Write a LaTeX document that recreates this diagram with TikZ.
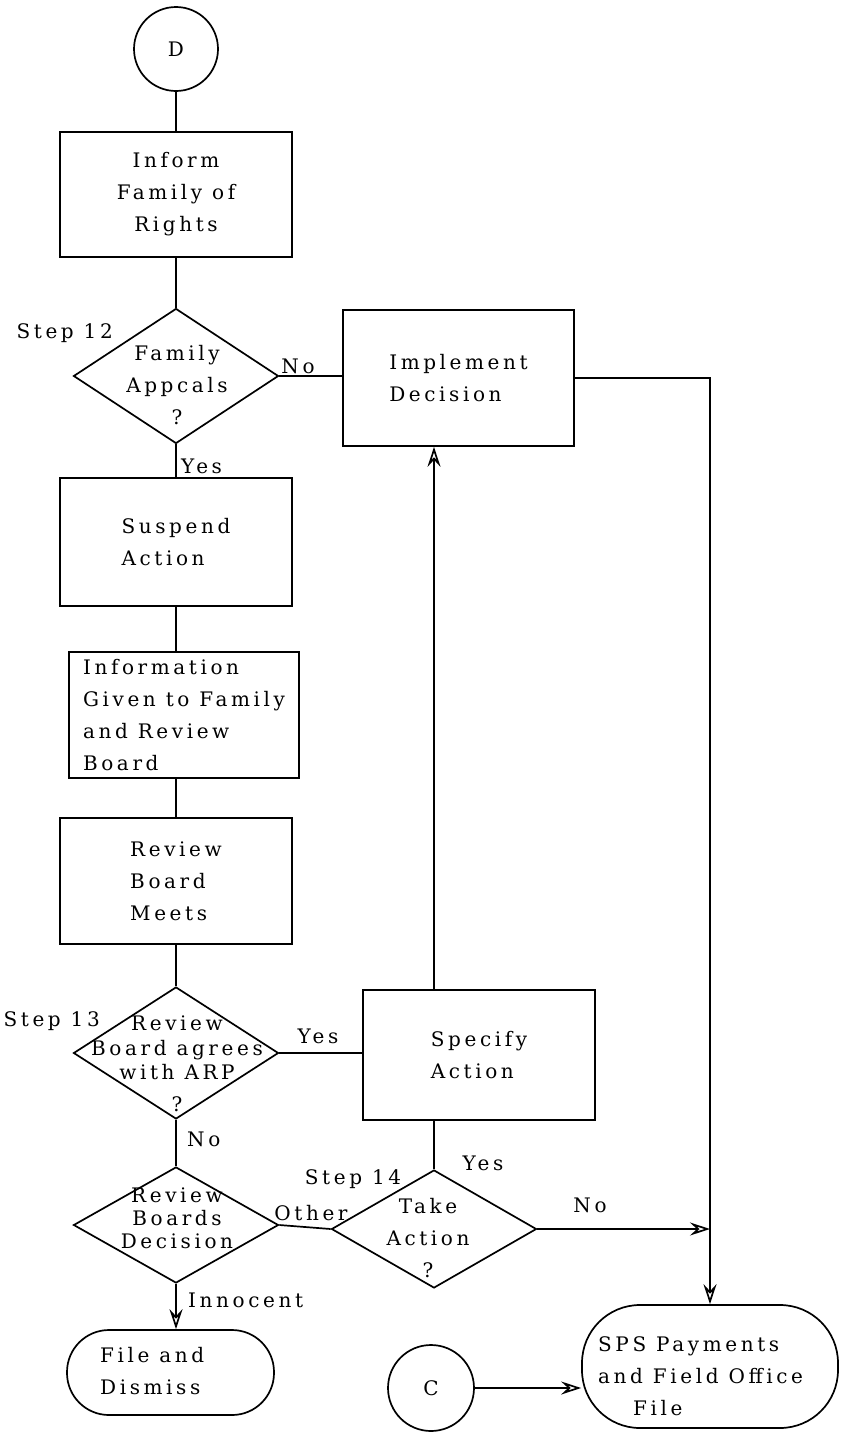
\documentclass[tikz,border=0pt]{standalone}
\usepackage{fontspec}
\setmainfont{DejaVu Serif}[LetterSpace=18]
\usetikzlibrary{shapes.geometric, arrows.meta}
\begin{document}
\begin{tikzpicture}[x=1pt, y=-1pt,
  lw/.style={line width=1.7pt},
  txt/.style={font=\fontsize{20}{32}\selectfont, inner sep=0pt},
  proc/.style={txt, lw, draw, rectangle, minimum width=232pt, minimum height=128pt},
  decision/.style={lw, draw, diamond, inner sep=0pt, minimum width=205pt},
  term/.style={lw, draw, rectangle, inner sep=0pt},
  conn/.style={txt, lw, draw, circle, minimum size=84pt},
  link/.style={lw},
  arrow/.style={lw, -{Stealth[open, length=20pt, width=13pt, inset=7pt, line width=1.7pt]}},
]
\fill[white] (0,0) rectangle (846,1432);
\useasboundingbox (0,0) rectangle (846,1432);

% main column
\node[conn] (D) at (176,49) {D};
\node[proc, minimum height=125pt, align=center] (inform) at (176,194.5) {Inform\\Family of\\Rights};
\node[decision, minimum height=135pt] (d1) at (176,376) {};
\node[txt, align=center] (d1t) at (177,385) {Family\\Appcals\\?};
\node[proc, minimum width=231pt, minimum height=136pt, align=left] (impl) at (458.5,378) {Implement\\Decision};
\node[proc, align=left] (suspend) at (176,542) {Suspend\\Action};
\node[proc, minimum width=230pt, minimum height=126pt, align=left] (info) at (184,715) {Information\\Given to Family\\and Review\\Board};
\node[proc, minimum height=126pt, align=left] (review) at (176,881) {Review\\Board\\Meets};
\node[decision, minimum height=132pt] (d2) at (176,1053) {};
\node[txt, align=center, font=\fontsize{20}{24.5}\selectfont] (d2t) at (177,1064) {Review\\Board agrees\\with ARP\\[7pt]?};
\node[proc, minimum height=130pt, align=left] (spec) at (479,1055) {Specify\\Action};
\node[decision, minimum height=116pt] (d3) at (176,1225) {};
\node[txt, align=center, font=\fontsize{20}{23}\selectfont] (d3t) at (177,1218) {Review\\Boards\\Decision};
\node[decision, minimum height=118pt] (d4) at (434,1229) {};
\node[txt, align=center] (d4t) at (428,1238) {Take\\Action\\?};
\node[term, minimum width=207pt, minimum height=85pt, rounded corners=42pt] (file) at (170.5,1372.5) {};
\node[txt, align=left, anchor=west] (filet) at (100,1371) {File and\\Dismiss};
\node[term, minimum width=256pt, minimum height=123pt, rounded corners=58pt] (sps) at (710,1366.5) {};
\node[txt, align=left, anchor=west] (spst) at (598,1376) {SPS Payments\\and Field Office\\\hspace*{35pt}File};
\node[conn, minimum size=86pt] (C) at (431,1388) {C};

% labels
\node[txt, anchor=east] (s12) at (113,333) {Step 12};
\node[txt] (no1) at (298,366) {No};
\node[txt, anchor=west] (yes1) at (181,466) {Yes};
\node[txt, anchor=east] (s13) at (100,1021) {Step 13};
\node[txt] (yes2) at (318,1036) {Yes};
\node[txt, anchor=west] (no2) at (187,1139) {No};
\node[txt] (s14) at (353,1179) {Step 14};
\node[txt] (yes3) at (483,1163) {Yes};
\node[txt] (other) at (311,1213) {Other};
\node[txt] (no3) at (590,1205) {No};
\node[txt, anchor=west] (innocent) at (188,1300) {Innocent};

% connectors
\draw[link] (D) -- (inform);
\draw[link] (inform) -- (d1);
\draw[link] (d1.east) -- (d1.east -| impl.west);
\draw[link] (d1) -- (suspend);
\draw[link] (suspend.south) -- (suspend.south |- info.north);
\draw[link] (info.south -| review.north) -- (review.north);
\draw[link] (review) -- (d2);
\draw[link] (d2.east) -- (d2.east -| spec.west);
\draw[arrow] (spec.north -| d4.north) -- (impl.south -| d4.north);
\draw[link] (spec.south -| d4.north) -- (d4.north);
\draw[link] (d2) -- (d3);
\draw[link] (d3.east) -- (d4.west);
\draw[arrow] (d3.south) -- (d3.south |- file.north);
\draw[arrow] (d4.east) -- (d4.east -| sps.north);
\draw[arrow] (impl.east) -| (sps.north);
\draw[arrow] (C.east) -- (C.east -| sps.west);
\end{tikzpicture}
\end{document}
